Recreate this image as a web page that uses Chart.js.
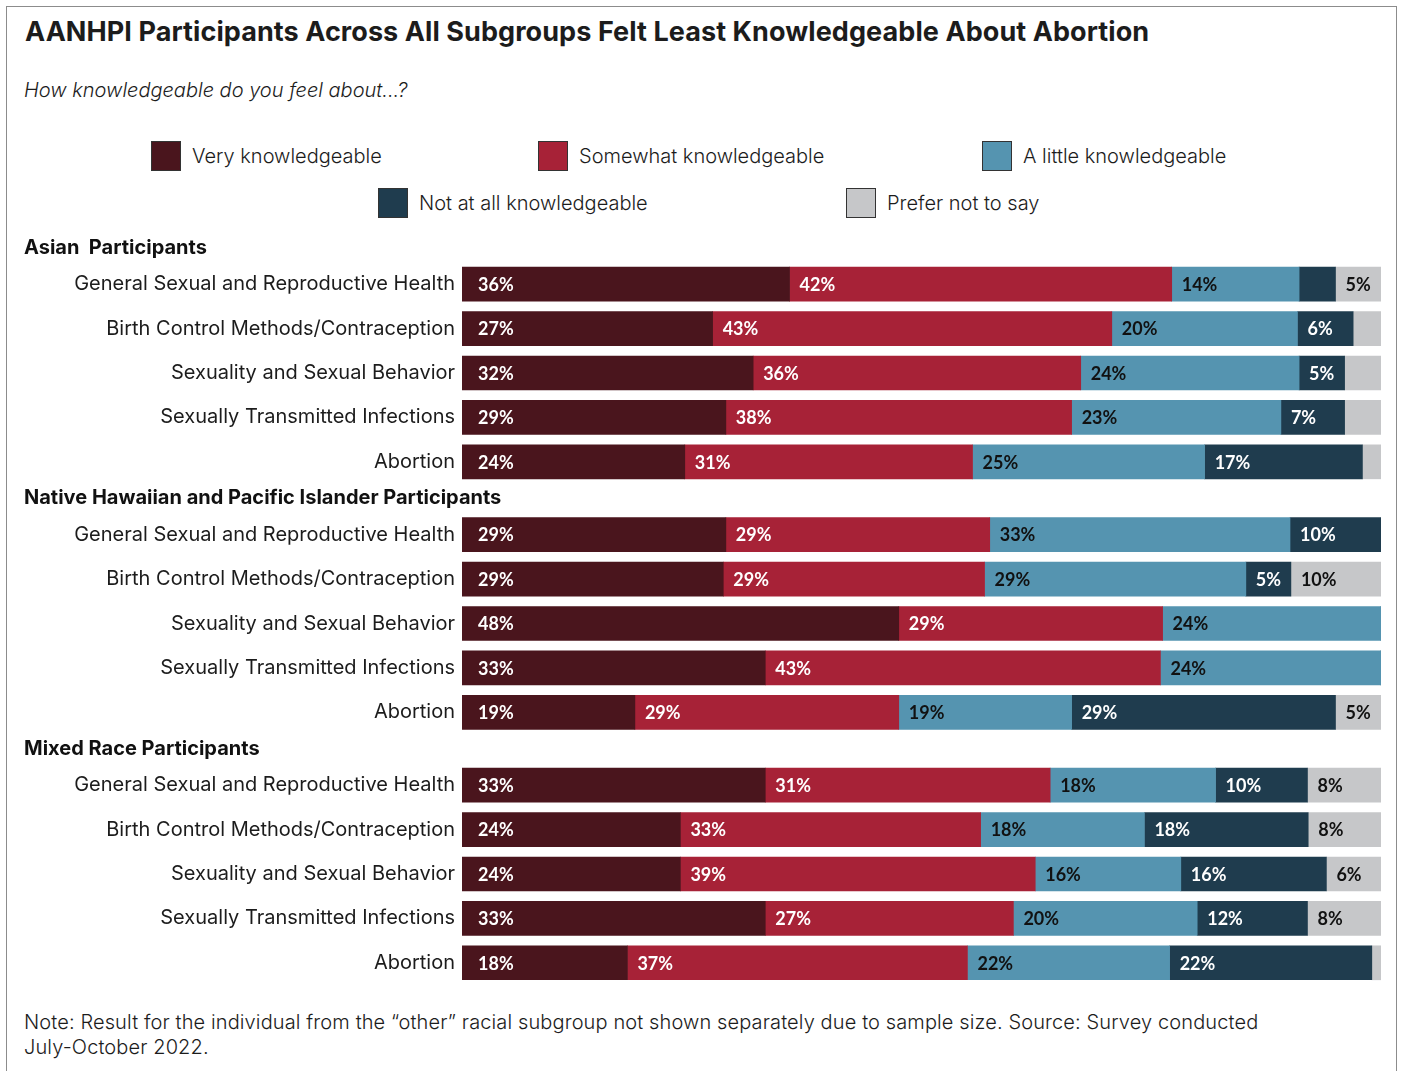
<!DOCTYPE html>
<html>
<head>
<meta charset="utf-8">
<script src="https://cdn.jsdelivr.net/npm/chart.js@4.4.1/dist/chart.umd.min.js"></script>
<style>
  body { margin: 0; background: #fff; color: #1c1c1c; font-family: Inter, sans-serif; }
  #frame { position: absolute; left: 6px; top: 6px; width: 1389px; height: 1090px; border: 1px solid #8c8c8c; }
  h1 { position: absolute; left: 25px; top: 15px; margin: 0; font: 700 27px Inter, sans-serif; letter-spacing: 0.08px; white-space: nowrap; }
  .sub { position: absolute; left: 24px; top: 78px; font: italic 300 20px Inter, sans-serif; }
  .leg { position: absolute; display: flex; align-items: center; font: 300 20px Inter, sans-serif; white-space: nowrap; }
  .leg i { display: inline-block; width: 28px; height: 28px; border: 1px solid #333; margin-right: 11px; }
  #wrap { position: absolute; left: 0; top: 230px; width: 1381px; height: 755px; }
  .note { position: absolute; left: 24px; top: 1010px; font: 300 20px Inter, sans-serif; letter-spacing: 0.12px; line-height: 25px; }
</style>
</head>
<body>
<div id="frame"></div>
<h1>AANHPI Participants Across All Subgroups Felt Least Knowledgeable About Abortion</h1>
<div class="sub">How knowledgeable do you feel about...?</div>
<div id="legend"></div>
<div id="wrap"><canvas id="chart"></canvas></div>
<div class="note">Note: Result for the individual from the “other” racial subgroup not shown separately due to sample size. Source: Survey conducted<br>July-October 2022.</div>
<script>
(function () {
    'use strict';

    var groups = ['Asian  Participants', 'Native Hawaiian and Pacific Islander Participants', 'Mixed Race Participants'];
    var topics = ['General Sexual and Reproductive Health', 'Birth Control Methods/Contraception',
        'Sexuality and Sexual Behavior', 'Sexually Transmitted Infections', 'Abortion'];
    var levels = ['Very knowledgeable', 'Somewhat knowledgeable', 'A little knowledgeable',
        'Not at all knowledgeable', 'Prefer not to say'];

    // one value per row: Asian x5, NHPI x5, Mixed x5
    var very      = [36, 27, 32, 29, 24,  29, 29, 48, 33, 19,  33, 24, 24, 33, 18];
    var somewhat  = [42, 43, 36, 38, 31,  29, 29, 29, 43, 29,  31, 33, 39, 27, 37];
    var little    = [14, 20, 24, 23, 25,  33, 29, 24, 24, 19,  18, 18, 16, 20, 22];
    var notAtAll  = [4, 6, 5, 7, 17,      10, 5, 0, 0, 29,     10, 18, 16, 12, 22];
    var preferNot = [5, 3, 4, 4, 2,       0, 10, 0, 0, 5,      8, 8, 6, 8, 1];

    var series = [very, somewhat, little, notAtAll, preferNot];
    var colors = ['#4a151d', '#a72237', '#5594b0', '#1f3c4e', '#c6c7c9'];
    var textColors = ['#ffffff', '#ffffff', '#111111', '#ffffff', '#111111'];

    // legend (two rows)
    var legendPos = [[151, 141], [538, 141], [982, 141], [378, 188], [846, 188]];
    var legendEl = document.getElementById('legend');
    levels.forEach(function (name, i) {
        var d = document.createElement('div');
        d.className = 'leg';
        d.style.left = legendPos[i][0] + 'px';
        d.style.top = legendPos[i][1] + 'px';
        d.innerHTML = '<i style="background:' + colors[i] + '"></i>' + name;
        legendEl.appendChild(d);
    });

    // row layout: group heading, then its topics
    var HEAD_GAP = 0.82;
    var Y_MIN = -0.4, Y_MAX = 16.6;
    var headerPos = [], rowPos = [], rowLabels = [];
    groups.forEach(function (g, gi) {
        var start = gi * (topics.length - 1 + 2 * HEAD_GAP);
        headerPos.push(start);
        topics.forEach(function (t, ti) {
            rowPos.push(start + HEAD_GAP + ti);
            rowLabels.push(t);
        });
    });

    var totals = rowPos.map(function (p, i) {
        return series.reduce(function (s, arr) { return s + arr[i]; }, 0);
    });

    var datasets = series.map(function (arr, si) {
        return {
            label: levels[si],
            raw: arr,
            data: arr.map(function (v, i) { return { x: v / totals[i] * 100, y: rowPos[i] }; }),
            backgroundColor: colors[si],
            borderWidth: 0,
            barThickness: 34,
        };
    });

    var barText = {
        id: 'barText',
        afterDatasetsDraw: function (chart) {
            var ctx = chart.ctx;
            ctx.save();
            ctx.font = '700 18px Lato, sans-serif';
            ctx.textBaseline = 'middle';
            ctx.textAlign = 'left';
            chart.data.datasets.forEach(function (ds, di) {
                chart.getDatasetMeta(di).data.forEach(function (bar, i) {
                    var v = ds.raw[i];
                    if (v < 5) return;
                    var p = bar.getProps(['x', 'y', 'base'], true);
                    ctx.fillStyle = textColors[di];
                    ctx.fillText(v + '%', Math.min(p.x, p.base) + (di === 0 ? 16 : 10), p.y + 1);
                });
            });
            ctx.restore();
        }
    };

    var groupHeads = {
        id: 'groupHeads',
        afterDraw: function (chart) {
            var ctx = chart.ctx;
            var y = chart.scales.y;
            ctx.save();
            ctx.font = '700 20px Inter, sans-serif';
            ctx.fillStyle = '#111';
            ctx.textBaseline = 'middle';
            ctx.textAlign = 'left';
            groups.forEach(function (g, gi) {
                ctx.fillText(g, 24, y.getPixelForValue(headerPos[gi]));
            });
            ctx.restore();
        }
    };

    new Chart(document.getElementById('chart'), {
        type: 'bar',
        data: { datasets: datasets },
        options: {
            indexAxis: 'y',
            responsive: true,
            maintainAspectRatio: false,
            animation: false,
            layout: { padding: 0, autoPadding: false },
            plugins: { legend: { display: false }, tooltip: { enabled: false } },
            scales: {
                x: { type: 'linear', stacked: true, min: 0, max: 100, display: false },
                y: {
                    type: 'linear',
                    stacked: true,
                    reverse: true,
                    offset: false,
                    bounds: 'data',
                    min: Y_MIN,
                    max: Y_MAX,
                    grid: { display: false, drawTicks: false, offset: false },
                    border: { display: false },
                    afterBuildTicks: function (scale) {
                        scale.ticks = rowPos.map(function (v) { return { value: v }; });
                        scale.min = Y_MIN;
                        scale.max = Y_MAX;
                    },
                    afterFit: function (scale) {
                        scale.width = 462;
                        scale.paddingTop = 0;
                        scale.paddingBottom = 0;
                    },
                    ticks: {
                        padding: 7,
                        color: '#1c1c1c',
                        font: { family: 'Inter', size: 20 },
                        callback: function (value, index) { return rowLabels[index]; },
                    },
                },
            },
        },
        plugins: [barText, groupHeads],
    });
})();
</script>
</body>
</html>
